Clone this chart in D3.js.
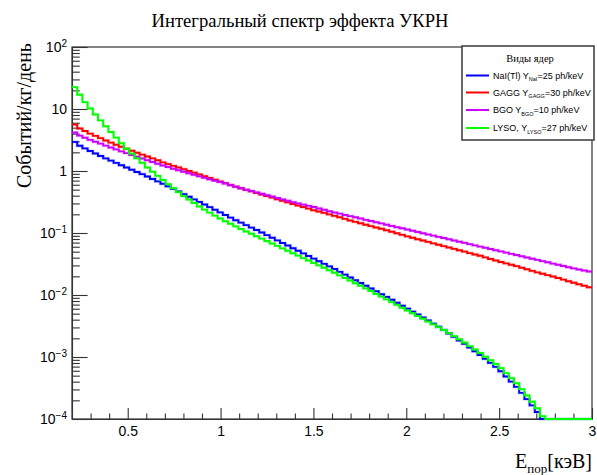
<!DOCTYPE html>
<html>
<head>
<meta charset="utf-8">
<script src="https://cdn.jsdelivr.net/npm/d3@7"></script>
<style>
  body { margin: 0; background: #fff; }
  svg { display: block; }
</style>
</head>
<body>
<svg id="chart" width="597" height="475"></svg>
<script>
// Integral spectra, events/kg/day above threshold; 100 bins from 0.2 to 3.0 keV
const binLow = 0.2;
const binWidth = 0.028;

const naiValues = [
  2.95, 2.55, 2.32, 2.10, 1.92, 1.75, 1.60, 1.47, 1.35, 1.24,
  1.14, 1.05, 0.966, 0.889, 0.817, 0.745, 0.681, 0.622, 0.566, 0.514,
  0.467, 0.424, 0.385, 0.349, 0.317, 0.288, 0.261, 0.237, 0.215, 0.195,
  0.177, 0.161, 0.147, 0.134, 0.122, 0.112, 0.102, 0.0923, 0.0838, 0.0760,
  0.0690, 0.0627, 0.0569, 0.0516, 0.0469, 0.0426, 0.0386, 0.0351, 0.0318, 0.0289,
  0.0262, 0.0236, 0.0213, 0.0192, 0.0173, 0.0156, 0.0141, 0.0127, 0.0115, 0.0103,
  0.00933, 0.00838, 0.00750, 0.00671, 0.00603, 0.00540, 0.00484, 0.00434, 0.00387, 0.00344,
  0.00307, 0.00273, 0.00240, 0.00211, 0.00185, 0.00163, 0.00142, 0.00124, 0.00108, 0.000933,
  0.000805, 0.000693, 0.000589, 0.000485, 0.000400, 0.000330, 0.000264, 0.000209, 0.000166, 0.000130,
  0.000098, 0, 0, 0, 0, 0, 0, 0, 0, 0
];

const gaggValues = [
  5.60, 4.86, 4.42, 4.01, 3.68, 3.39, 3.11, 2.87, 2.65, 2.46,
  2.28, 2.12, 1.97, 1.84, 1.71, 1.60, 1.49, 1.38, 1.29, 1.21,
  1.14, 1.07, 1.00, 0.938, 0.879, 0.824, 0.773, 0.724, 0.679, 0.637,
  0.597, 0.560, 0.526, 0.497, 0.469, 0.442, 0.417, 0.394, 0.372, 0.351,
  0.330, 0.312, 0.294, 0.278, 0.262, 0.247, 0.233, 0.222, 0.211, 0.200,
  0.189, 0.179, 0.169, 0.159, 0.151, 0.144, 0.136, 0.129, 0.123, 0.117,
  0.111, 0.105, 0.0989, 0.0933, 0.0881, 0.0838, 0.0794, 0.0755, 0.0718, 0.0681,
  0.0647, 0.0614, 0.0583, 0.0555, 0.0526, 0.0500, 0.0474, 0.0451, 0.0429, 0.0405,
  0.0381, 0.0360, 0.0340, 0.0324, 0.0307, 0.0292, 0.0275, 0.0260, 0.0245, 0.0232,
  0.0220, 0.0209, 0.0199, 0.0188, 0.0177, 0.0167, 0.0158, 0.0149, 0.0141, 0.0133
];

const bgoValues = [
  4.17, 3.72, 3.44, 3.18, 2.96, 2.76, 2.57, 2.39, 2.23, 2.07,
  1.94, 1.81, 1.70, 1.59, 1.49, 1.40, 1.31, 1.23, 1.16, 1.09,
  1.03, 0.973, 0.918, 0.867, 0.818, 0.774, 0.735, 0.698, 0.664, 0.627,
  0.590, 0.557, 0.527, 0.501, 0.475, 0.452, 0.429, 0.407, 0.387, 0.367,
  0.349, 0.331, 0.315, 0.300, 0.287, 0.274, 0.262, 0.249, 0.237, 0.224,
  0.214, 0.205, 0.195, 0.187, 0.179, 0.171, 0.163, 0.156, 0.149, 0.143,
  0.136, 0.130, 0.124, 0.119, 0.114, 0.109, 0.104, 0.0993, 0.0948, 0.0908,
  0.0867, 0.0830, 0.0793, 0.0757, 0.0724, 0.0692, 0.0662, 0.0632, 0.0604, 0.0578,
  0.0552, 0.0528, 0.0505, 0.0482, 0.0461, 0.0441, 0.0422, 0.0403, 0.0385, 0.0368,
  0.0352, 0.0337, 0.0321, 0.0307, 0.0294, 0.0281, 0.0269, 0.0258, 0.0248, 0.0239
];

const lysoValues = [
  22.5, 17.0, 12.9, 10.2, 8.17, 6.55, 5.26, 4.25, 3.45, 2.81,
  2.29, 1.91, 1.60, 1.35, 1.14, 0.973, 0.834, 0.714, 0.615, 0.530,
  0.457, 0.394, 0.347, 0.305, 0.268, 0.238, 0.213, 0.191, 0.171, 0.155,
  0.141, 0.128, 0.116, 0.106, 0.0973, 0.0887, 0.0811, 0.0741, 0.0678, 0.0619,
  0.0565, 0.0516, 0.0472, 0.0432, 0.0394, 0.0360, 0.0329, 0.0301, 0.0275, 0.0251,
  0.0229, 0.0207, 0.0188, 0.0171, 0.0155, 0.0141, 0.0128, 0.0116, 0.0104, 0.00942,
  0.00851, 0.00767, 0.00692, 0.00624, 0.00562, 0.00508, 0.00458, 0.00413, 0.00372, 0.00336,
  0.00303, 0.00273, 0.00243, 0.00217, 0.00193, 0.00171, 0.00150, 0.00132, 0.00116, 0.00101,
  0.000885, 0.000773, 0.000662, 0.000550, 0.000456, 0.000378, 0.000303, 0.000240, 0.000190, 0.000149,
  0.000111, 0, 0, 0, 0, 0, 0, 0, 0, 0
];

// Legend text pieces: label, subscript, remainder
const seriesNames = ["NaI(Tl) Y", "GAGG Y", "BGO Y", "LYSO, Y"];
const seriesSubs = ["NaI", "GAGG", "BGO", "LYSO"];
const seriesTails = ["=25 ph/keV", "=30 ph/keV", "=10 ph/keV", "=27 ph/keV"];
const seriesValues = [naiValues, gaggValues, bgoValues, lysoValues];
const seriesColors = ["#0000ff", "#ff0000", "#cc00ff", "#00ff00"];

const xDomain = [0.2, 3.0];
const yDomain = [1e-4, 100];
const xMajorTicks = [0.5, 1, 1.5, 2, 2.5, 3];
const xTickLabels = ["0.5", "1", "1.5", "2", "2.5", "3"];
const xMinorTicks = [0.3, 0.4, 0.6, 0.7, 0.8, 0.9, 1.1, 1.2, 1.3, 1.4, 1.6, 1.7, 1.8, 1.9,
                     2.1, 2.2, 2.3, 2.4, 2.6, 2.7, 2.8, 2.9];
const yExponents = [-4, -3, -2, -1, 0, 1, 2];

const titleText = "Интегральный спектр эффекта УКРН";
const yTitleText = "Событий/кг/день";
const legendHeader = "Виды ядер";

// ---- layout ----
const frame = { left: 72, right: 592, top: 47, bottom: 419 };
const svg = d3.select("#chart");
const sansFont = "'Liberation Sans', Arial, Helvetica, sans-serif";
const serifFont = "'Liberation Serif', 'Times New Roman', serif";

const x = d3.scaleLinear().domain(xDomain).range([frame.left, frame.right]);
const y = d3.scaleLog().domain(yDomain).range([frame.bottom, frame.top]).clamp(true);
const yPos = v => (v > 0 ? y(v) : y(yDomain[0]));

const axisColor = "#333";

// frame box
svg.append("rect")
  .attr("x", frame.left).attr("y", frame.top)
  .attr("width", frame.right - frame.left).attr("height", frame.bottom - frame.top)
  .attr("fill", "none").attr("stroke", axisColor).attr("stroke-width", 1.2);

// x axis: major + minor ticks pointing into the frame
svg.append("g")
  .attr("transform", `translate(0,${frame.bottom})`)
  .call(d3.axisBottom(x).tickValues(xMajorTicks).tickSizeInner(-11).tickSizeOuter(0)
    .tickPadding(7).tickFormat((d, i) => xTickLabels[i]));
svg.append("g")
  .attr("transform", `translate(0,${frame.bottom})`)
  .call(d3.axisBottom(x).tickValues(xMinorTicks).tickSizeInner(-5.5).tickSizeOuter(0).tickFormat(""))
  .call(g => g.select(".domain").remove());

// y axis: decades labelled as powers of ten, minor ticks 2..9
const yMajor = yExponents.map(e => Math.pow(10, e));
const yMinor = [];
yExponents.slice(0, -1).forEach(e => {
  for (let k = 2; k <= 9; k++) yMinor.push(k * Math.pow(10, e));
});
const yAxisG = svg.append("g")
  .attr("transform", `translate(${frame.left},0)`)
  .call(d3.axisLeft(y).tickValues(yMajor).tickSizeInner(-15.6).tickSizeOuter(0)
    .tickPadding(5).tickFormat(() => ""));
svg.append("g")
  .attr("transform", `translate(${frame.left},0)`)
  .call(d3.axisLeft(y).tickValues(yMinor).tickSizeInner(-7.8).tickSizeOuter(0).tickFormat(""))
  .call(g => g.select(".domain").remove());

yAxisG.selectAll(".tick text").each(function (d) {
  const e = Math.round(Math.log10(d));
  const t = d3.select(this);
  if (e === 0) t.text("1");
  else if (e === 1) t.text("10");
  else {
    t.append("tspan").text("10");
    t.append("tspan").attr("dy", "-0.5em").attr("font-size", "10px").text(e < 0 ? "\u2212" + (-e) : e);
  }
});

svg.selectAll(".tick line, .domain").attr("stroke", axisColor).attr("stroke-width", 1.1);
svg.selectAll(".tick text")
  .attr("fill", "#000").attr("font-family", sansFont).attr("font-size", "14px");

// histogram step curves
const line = d3.line().curve(d3.curveStepAfter);
seriesValues.forEach((vals, si) => {
  const pts = vals.map((v, i) => [x(binLow + i * binWidth), yPos(v)]);
  pts.push([x(binLow + vals.length * binWidth), yPos(vals[vals.length - 1])]);
  const g = svg.append("g");
  g.append("path").attr("d", line(pts)).attr("fill", "none")
    .attr("stroke", seriesColors[si]).attr("stroke-width", 3.2).attr("stroke-opacity", 0.18);
  g.append("path").attr("d", line(pts)).attr("fill", "none")
    .attr("stroke", seriesColors[si]).attr("stroke-width", 1.9);
});

// title
svg.append("text")
  .attr("x", 300).attr("y", 27).attr("text-anchor", "middle")
  .attr("font-family", serifFont).attr("font-size", "18.6px").attr("fill", "#000")
  .text(titleText);

// y title
svg.append("text")
  .attr("transform", "translate(31,43) rotate(-90)")
  .attr("text-anchor", "end")
  .attr("font-family", serifFont).attr("font-size", "20px").attr("fill", "#000")
  .text(yTitleText);

// x title: E with subscript "пор"
const xt = svg.append("text")
  .attr("x", 592).attr("y", 468).attr("text-anchor", "end")
  .attr("font-family", serifFont).attr("font-size", "20px").attr("fill", "#000");
xt.append("tspan").text("E");
xt.append("tspan").attr("dy", 5).attr("font-size", "13px").text("пор");
xt.append("tspan").attr("dy", -5).text("[кэВ]");

// legend
const lg = svg.append("g");
lg.append("rect")
  .attr("x", 462).attr("y", 46).attr("width", 132).attr("height", 94)
  .attr("fill", "#fff").attr("stroke", "#444").attr("stroke-width", 1.6);
lg.append("text")
  .attr("x", 530).attr("y", 62).attr("text-anchor", "middle")
  .attr("font-family", serifFont).attr("font-size", "10.5px").attr("fill", "#000")
  .text(legendHeader);
const rowY = [75.5, 92.5, 110, 128];
seriesNames.forEach((name, i) => {
  lg.append("line")
    .attr("x1", 466).attr("x2", 489).attr("y1", rowY[i]).attr("y2", rowY[i])
    .attr("stroke", seriesColors[i]).attr("stroke-width", 2);
  const t = lg.append("text")
    .attr("x", 493).attr("y", rowY[i] + 3.2)
    .attr("font-family", sansFont).attr("font-size", "9px").attr("fill", "#000");
  t.append("tspan").text(name);
  t.append("tspan").attr("dy", 2.6).attr("font-size", "5.5px").text(seriesSubs[i]);
  t.append("tspan").attr("dy", -2.6).text(seriesTails[i]);
});
</script>
</body>
</html>
